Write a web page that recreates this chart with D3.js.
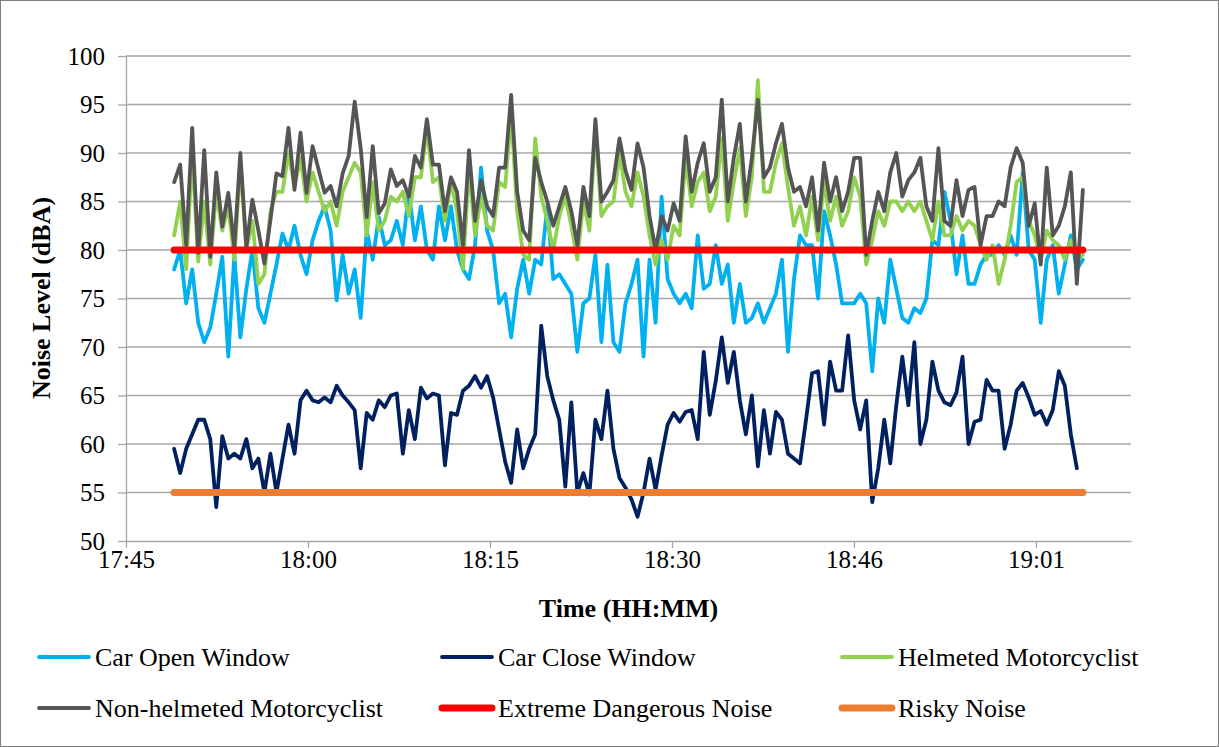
<!DOCTYPE html>
<html><head><meta charset="utf-8">
<script src="https://cdn.jsdelivr.net/npm/d3@7"></script>
<style>
body{margin:0;background:#fff}
svg{display:block}
text{font-family:"Liberation Serif","Times New Roman",serif;fill:#000}
</style>
</head><body>
<svg id="chart" width="1219" height="747"></svg>
<script>
// ---- data ----
const yTicks = [50, 55, 60, 65, 70, 75, 80, 85, 90, 95, 100];
const xTickMinutes = [0, 15.12, 30.24, 45.36, 60.48, 75.6]; // minutes after 17:45
const xTickLabels = ["17:45", "18:00", "18:15", "18:30", "18:46", "19:01"];
const xMaxMinutes = 83.5;
const startMinute = 4.0;   // first sample 17:49
const stepMinutes = 0.5;   // 30 s sampling

const carOpen = [78, 80, 74.5, 78, 72.5, 70.5, 72, 75.5, 79.3, 69, 79.5, 71, 76, 80, 74, 72.5, 75.5, 78.5, 81.7, 80, 82.5, 79.5, 77.5, 81, 83, 84.5, 82, 74.8, 79.5, 75.5, 78, 73, 82, 79, 83.4, 80.5, 81, 83,
  80.5, 86, 81, 84.5, 80, 79, 84.5, 81, 84.5, 80, 78, 77, 80.5, 88.5, 82, 80, 74.5, 75.5, 71, 76, 79, 75.5, 79, 78.5, 84.5, 77, 77.5, 76.5, 75.5, 69.5, 74.5, 75, 79.5, 70.5, 78.5, 70.5, 69.5, 74.5,
  76.5, 79, 69, 79, 72.5, 85.5, 77, 75.5, 74.5, 75.5, 74, 81.5, 76, 76.5, 80.5, 76.5, 78.5, 72.5, 76.5, 72.5, 73, 74.5, 72.5, 74, 75.5, 79, 69.5, 77, 81.5, 80.5, 80.5, 75, 84, 81.5, 78.5, 74.5, 74.5, 74.5,
  75.5, 74.5, 67.5, 75, 72.5, 79, 76, 73, 72.5, 74, 73.5, 75, 81, 80.5, 86, 83, 77.5, 81.5, 76.5, 76.5, 78.5, 79.5, 79.5, 80.5, 79.5, 81.5, 79.5, 88, 80, 79, 72.5, 79, 80.5, 75.5, 78.5, 81.5, 78, 79];

const carClose = [59.5, 57, 59.5, 61, 62.5, 62.5, 60.5, 53.5, 60.8, 58.5, 59, 58.5, 60.5, 57.5, 58.5, 55, 59, 55, 58.5, 62, 59, 64.5, 65.5, 64.5, 64.3, 64.8, 64.3, 66, 65, 64.3, 63.5, 57.5, 63.2, 62.5, 64.5, 63.8, 65, 65.2,
  59, 63.5, 60.5, 65.8, 64.7, 65.2, 65, 57.8, 63.2, 63, 65.5, 66, 67, 65.8, 67, 64.8, 61.5, 58.2, 56, 61.5, 57.5, 59.5, 61, 72.2, 67, 64.5, 62.5, 55.6, 64.3, 55, 57, 54.8, 62.5, 60.5, 65.5, 59.5, 56.5, 55.5,
  54.3, 52.5, 55, 58.5, 55.3, 58.8, 62, 63.2, 62.3, 63.3, 63.5, 60.5, 69.5, 63, 66.5, 71, 66.3, 69.5, 64.5, 61, 65, 57.7, 63.5, 59, 63.3, 62.5, 59, 58.5, 58, 62.5, 67.3, 67.5, 62, 68.5, 65.5, 65.5, 71.2, 64.5,
  61.5, 64.5, 54, 57.5, 62.5, 58, 64, 69, 64, 70.5, 60, 62.5, 68.5, 65.5, 64.3, 64, 65.3, 69, 60, 62.3, 62.5, 66.6, 65.5, 65.5, 59.5, 62, 65.5, 66.3, 64.8, 63, 63.4, 62, 63.5, 67.5, 66, 61, 57.5];

const helmeted = [81.5, 85, 78, 90, 78.8, 85, 78.5, 86, 82, 84.5, 79, 89, 80, 83, 76.5, 77.5, 84, 86, 86, 90, 86.5, 89.5, 85, 88, 86, 84, 85, 82.5, 86, 87.5, 89, 88, 81.5, 87, 82, 83, 85.5, 85,
  86, 83.5, 87.5, 87.5, 92.5, 87, 87.5, 83, 87, 84, 78, 88.5, 81.5, 85.5, 82.5, 82, 87, 86.5, 94, 84, 79.5, 79, 91.5, 85.5, 83, 80, 83.5, 85.5, 82.5, 79, 85, 82, 92.5, 83.5, 84.5, 85, 90, 86,
  84.5, 88, 85.5, 81.5, 78.5, 81, 79, 82.5, 81.5, 89.5, 84.5, 87, 88, 84, 85.5, 91.5, 83, 87, 90.5, 83.5, 87.5, 97.5, 86, 86, 89, 91, 86.5, 82.5, 84.5, 81.5, 85.5, 81, 87, 83, 85.5, 82.5, 84, 87.5,
  85.5, 78.5, 81, 84, 82.5, 85, 85, 84, 85, 84, 85, 83, 81, 85, 81.5, 81.5, 83.5, 82, 83, 82.5, 80.5, 79, 80.5, 76.5, 79, 82.5, 87, 87.5, 83, 81.5, 79, 82, 81, 80.5, 79, 81, 79, 79.5];

const nonHelmeted = [87, 88.8, 80.5, 92.6, 79.7, 90.3, 79.3, 88, 82.4, 85.9, 80.3, 90, 80.3, 85.2, 82, 78.6, 83.1, 87.9, 87.6, 92.6, 86.2, 92.1, 85.9, 90.7, 88.3, 85.9, 86.6, 84.5, 87.9, 89.7, 95.3, 90.5, 83.4, 90.7, 83.8, 84.8, 88.3, 86.6,
  87.2, 85.5, 89.7, 88.5, 93.5, 88.8, 88.8, 84, 87.5, 86, 80.5, 90.3, 83, 87.2, 84.5, 83.5, 88.5, 88.5, 96, 86, 82, 81, 89.5, 87, 85, 82.5, 84.5, 86.5, 84, 80.5, 86.5, 83.5, 93.5, 85, 86, 87.2, 91.5, 88.2,
  86.2, 91, 88.5, 83.5, 80, 83.5, 82, 84.8, 83, 91.7, 86, 89, 91, 86, 87.5, 95.5, 85, 89.5, 93, 85, 89.5, 95.5, 87.5, 88.5, 91, 93, 88.5, 86, 86.5, 84.5, 87.5, 82, 89, 85, 87.5, 84, 86, 89.5,
  89.5, 79.5, 83, 86, 84, 88, 90, 85.5, 87.2, 88, 89.5, 84.5, 83, 90.5, 83, 82.5, 87.2, 83.5, 86.2, 86.5, 80.5, 83.5, 83.5, 85, 84.5, 88.5, 90.5, 89, 82.5, 84.8, 78.5, 88.5, 81.5, 82.5, 84.5, 88, 76.5, 86.2];

const extremeLevel = 80;  // Extreme Dangerous Noise
const riskyLevel = 55;    // Risky Noise

const seriesNames = ["Car Open Window", "Car Close Window", "Helmeted Motorcyclist",
  "Non-helmeted Motorcyclist", "Extreme Dangerous Noise", "Risky Noise"];
const seriesColors = ["#00b0f0", "#002060", "#92d050", "#555555", "#ff0000", "#ed7d31"];

// ---- chart ----
const FONT = '"Liberation Serif", "Times New Roman", serif';
const svg = d3.select("#chart");
const W = 1219, H = 747;
const plot = {left: 126, right: 1131, top: 56, bottom: 541};

svg.append("rect").attr("x", 0.5).attr("y", 0.5).attr("width", W - 1).attr("height", H - 1)
  .attr("fill", "#fff").attr("stroke", "#7f7f7f").attr("stroke-width", 1);

const x = d3.scaleLinear().domain([0, xMaxMinutes]).range([plot.left, plot.right]);
const y = d3.scaleLinear().domain([50, 100]).range([plot.bottom, plot.top]);

const gridColor = "#a6a6a6";

// gridlines
svg.append("g").selectAll("line").data(yTicks.filter(d => d > 50)).join("line")
  .attr("x1", plot.left).attr("x2", plot.right)
  .attr("y1", d => y(d)).attr("y2", d => y(d))
  .attr("stroke", gridColor).attr("stroke-width", 1.3);

// y axis
const yAxis = svg.append("g").attr("transform", `translate(${plot.left},0)`)
  .call(d3.axisLeft(y).tickValues(yTicks).tickSize(8).tickSizeOuter(0).tickPadding(13).tickFormat(d3.format("d")))
  .attr("font-family", FONT).attr("font-size", 25);
yAxis.select(".domain").attr("stroke", gridColor).attr("stroke-width", 1.3);
yAxis.selectAll(".tick line").attr("stroke", gridColor).attr("stroke-width", 1.3);
yAxis.selectAll(".tick text").attr("font-size", 25).style("font-family", FONT).attr("fill", "#000");

// x axis
const xAxis = svg.append("g").attr("transform", `translate(0,${plot.bottom})`)
  .call(d3.axisBottom(x).tickValues(xTickMinutes).tickSize(7).tickSizeOuter(0).tickPadding(2)
    .tickFormat((d, i) => xTickLabels[i]))
  .attr("font-family", FONT).attr("font-size", 25);
xAxis.select(".domain").attr("stroke", gridColor).attr("stroke-width", 1.3);
xAxis.selectAll(".tick line").attr("stroke", gridColor).attr("stroke-width", 1.3);
xAxis.selectAll(".tick text").attr("font-size", 25).style("font-family", FONT).attr("fill", "#000");

// axis titles
svg.append("text").attr("x", (plot.left + plot.right) / 2).attr("y", 617)
  .attr("text-anchor", "middle").attr("font-size", 26).attr("font-weight", "bold").text("Time (HH:MM)");
svg.append("text").attr("transform", "translate(50,298) rotate(-90)")
  .attr("text-anchor", "middle").attr("font-size", 26).attr("font-weight", "bold").text("Noise Level (dBA)");

// series
const tAt = i => startMinute + i * stepMinutes;
const line = d3.line().x(d => x(d.t)).y(d => y(d.v)).curve(d3.curveLinear);
const toPts = arr => arr.map((v, i) => ({t: tAt(i), v}));

const dataSeries = [carOpen, carClose, helmeted, nonHelmeted];
dataSeries.forEach((arr, k) => {
  svg.append("path").datum(toPts(arr)).attr("d", line)
    .attr("fill", "none").attr("stroke", seriesColors[k])
    .attr("stroke-width", 3.8).attr("stroke-linejoin", "round").attr("stroke-linecap", "round");
});

// threshold lines
const tEnd = tAt(nonHelmeted.length - 1);
[extremeLevel, riskyLevel].forEach((lvl, k) => {
  svg.append("path").datum([{t: startMinute, v: lvl}, {t: tEnd, v: lvl}]).attr("d", line)
    .attr("fill", "none").attr("stroke", seriesColors[4 + k])
    .attr("stroke-width", 7).attr("stroke-linecap", "round");
});

// legend
const legCols = [37, 440, 840];
const legRows = [657, 708];
seriesNames.forEach((name, k) => {
  const cx = legCols[k % 3], cy = legRows[Math.floor(k / 3)];
  const g = svg.append("g");
  g.append("line").attr("x1", cx + 2).attr("x2", cx + 52).attr("y1", cy).attr("y2", cy)
    .attr("stroke", seriesColors[k]).attr("stroke-width", k >= 4 ? 7 : 3.8).attr("stroke-linecap", "round");
  g.append("text").attr("x", cx + 58).attr("y", cy).attr("dy", "0.33em")
    .attr("font-size", 26).text(name);
});
</script>
</body></html>
